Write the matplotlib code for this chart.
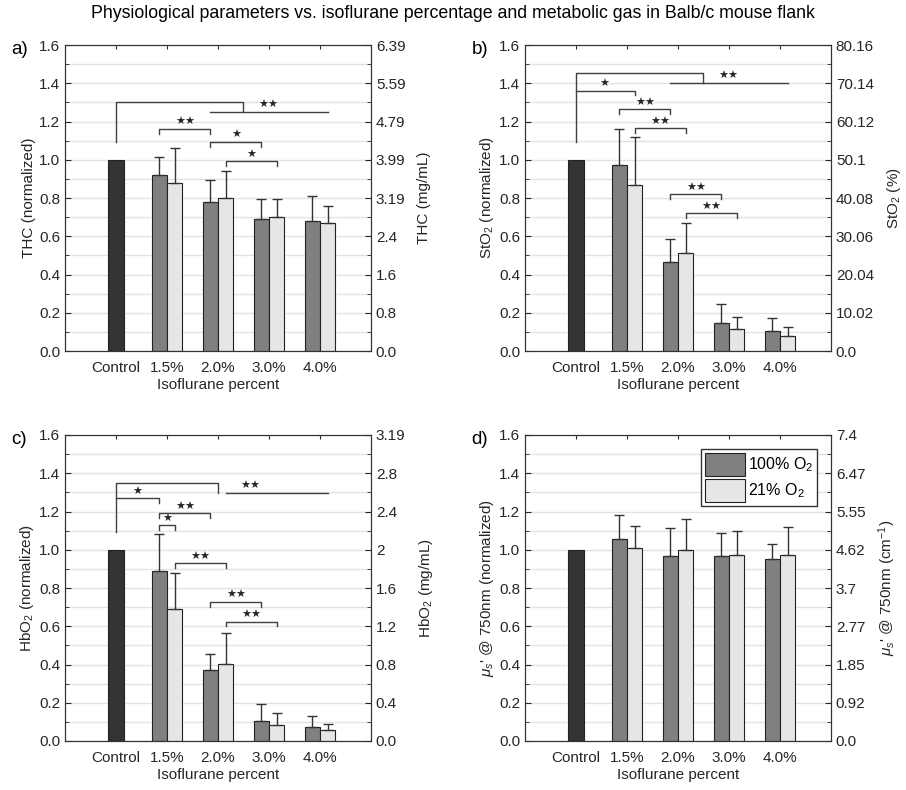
import numpy as np
import matplotlib
matplotlib.use('Agg')
import matplotlib.pyplot as plt

plt.rcParams['font.family'] = ['Liberation Sans', 'DejaVu Sans']
plt.rcParams['mathtext.fontset'] = 'custom'
plt.rcParams['mathtext.rm'] = 'Liberation Sans'
plt.rcParams['mathtext.it'] = 'Liberation Sans:italic'

# ---- data ----
categories = ['Control', '1.5%', '2.0%', '3.0%', '4.0%']
control = 1.0

thc_100 = [0.92, 0.78, 0.69, 0.68]
thc_100_err = [0.095, 0.115, 0.105, 0.13]
thc_21 = [0.88, 0.80, 0.70, 0.67]
thc_21_err = [0.18, 0.14, 0.095, 0.09]

sto2_100 = [0.97, 0.465, 0.145, 0.105]
sto2_100_err = [0.19, 0.12, 0.10, 0.065]
sto2_21 = [0.87, 0.51, 0.115, 0.08]
sto2_21_err = [0.25, 0.16, 0.065, 0.045]

hbo2_100 = [0.89, 0.37, 0.105, 0.075]
hbo2_100_err = [0.19, 0.085, 0.09, 0.055]
hbo2_21 = [0.69, 0.405, 0.085, 0.06]
hbo2_21_err = [0.19, 0.16, 0.06, 0.03]

mus_100 = [1.055, 0.965, 0.965, 0.95]
mus_100_err = [0.125, 0.15, 0.12, 0.08]
mus_21 = [1.01, 1.0, 0.975, 0.975]
mus_21_err = [0.115, 0.16, 0.125, 0.145]

right_thc = ['0.0', '0.8', '1.6', '2.4', '3.19', '3.99', '4.79', '5.59', '6.39']
right_sto2 = ['0.0', '10.02', '20.04', '30.06', '40.08', '50.1', '60.12', '70.14', '80.16']
right_hbo2 = ['0.0', '0.4', '0.8', '1.2', '1.6', '2', '2.4', '2.8', '3.19']
right_mus = ['0.0', '0.92', '1.85', '2.77', '3.7', '4.62', '5.55', '6.47', '7.4']

# significance: (group a, group b, height, stars); group = (cat index, 0=100%, 1=21%)
sig_thc = [((1, 0), (2, 0), 1.162, '★★'), ((2, 0), (3, 0), 1.094, '★'), ((2, 1), (3, 1), 0.993, '★')]
sig_sto2 = [((1, 0), (2, 0), 1.265, '★★'), ((1, 1), (2, 1), 1.164, '★★'),
            ((2, 0), (3, 0), 0.821, '★★'), ((2, 1), (3, 1), 0.72, '★★')]
sig_hbo2 = [((1, 0), (2, 0), 1.19, '★★'), ((1, 0), (1, 1), 1.129, '★'), ((1, 1), (2, 1), 0.929, '★★'),
            ((2, 0), (3, 0), 0.728, '★★'), ((2, 1), (3, 1), 0.624, '★★')]
# control vs. group brackets: (top, drop x, line height, line start, star x)
big_thc = (1.304, 3.49, 1.25, (2, 0), 3.98)
big_sto2 = (1.452, 3.49, 1.403, (2, 0), 3.98)
big_hbo2 = (1.347, 3.0, 1.298, (2, 1), 3.63)
ctrl_sto2 = ((1, 1), 1.361, '★', 1.56)
ctrl_hbo2 = ((1, 0), 1.269, '★', 1.41)

c_ctrl = '#333333'
c_100 = '#808080'
c_21 = '#e6e6e6'
txt = '#262626'
lc = '#404040'
w = 0.3
x = np.arange(1, 6)
star_fs = 8


def gx(g):
    i, s = g
    return x[i] - w / 2 + s * w


def star(ax, sx, y, s):
    ax.text(sx, y + 0.008, s, ha='center', va='bottom', fontsize=star_fs,
            color=txt, family='DejaVu Sans')


def bracket(ax, g1, g2, y, s):
    x1, x2 = gx(g1), gx(g2)
    ax.plot([x1, x1, x2, x2], [y - 0.025, y, y, y - 0.025], color=lc, lw=1)
    star(ax, (x1 + x2) / 2, y, s)


def big(ax, spec):
    top, dx, ly, g0, sx = spec
    ax.plot([1, 1, dx, dx], [1.094, top, top, ly], color=lc, lw=1)
    ax.plot([gx(g0), gx((4, 1))], [ly, ly], color=lc, lw=1)
    star(ax, sx, ly, '★★')


def ctrl(ax, spec):
    g, y, s, sx = spec
    x2 = gx(g)
    ax.plot([1, x2, x2], [y, y, y - 0.025], color=lc, lw=1)
    star(ax, sx, y, s)


def panel(ax, v100, e100, v21, e21, lab, left, right, rlabels):
    ax.set_axisbelow(True)
    ax.bar(x[0], control, w, color=c_ctrl, edgecolor='#222222', lw=0.8, zorder=2)
    b1 = ax.bar(x[1:] - w / 2, v100, w, color=c_100, edgecolor='#222222', lw=0.8,
                zorder=2, label='100% O$_2$')
    b2 = ax.bar(x[1:] + w / 2, v21, w, color=c_21, edgecolor='#222222', lw=0.8,
                zorder=2, label='21% O$_2$')
    ax.errorbar(x[1:] - w / 2, v100, yerr=[np.zeros(4), e100], fmt='none', ecolor='#333333',
                elinewidth=1, capsize=3.5, capthick=1, zorder=3)
    ax.errorbar(x[1:] + w / 2, v21, yerr=[np.zeros(4), e21], fmt='none', ecolor='#333333',
                elinewidth=1, capsize=3.5, capthick=1, zorder=3)
    ax.set_xlim(0, 6)
    ax.set_ylim(0, 1.6)
    ax.set_xticks(x)
    ax.set_xticklabels(categories)
    ax.set_yticks(np.arange(0, 1.61, 0.2))
    ax.set_yticks(np.arange(0.1, 1.6, 0.2), minor=True)
    ax.set_yticklabels(['%.1f' % v for v in np.arange(0, 1.61, 0.2)])
    ax.grid(True, axis='y', which='both', color='#e3e3e3', lw=1)
    ax.tick_params(axis='both', which='both', direction='in', top=True, labelsize=11,
                   colors=txt, length=4)
    ax.tick_params(axis='x', which='both', length=3, pad=7)
    ax.tick_params(axis='y', which='minor', length=3)
    ax.set_xlabel('Isoflurane percent', fontsize=11, color=txt, labelpad=2)
    ax.set_ylabel(left, fontsize=11, color=txt, labelpad=2)
    for sp in ax.spines.values():
        sp.set_color('#333333')
    ax.text(-0.175, 0.985, lab, transform=ax.transAxes, fontsize=13.5, color='black',
            ha='left', va='center')
    ax2 = ax.twinx()
    ax2.set_ylim(0, 1.6)
    ax2.set_yticks(np.arange(0, 1.61, 0.2))
    ax2.set_yticks(np.arange(0.1, 1.6, 0.2), minor=True)
    ax2.set_yticklabels(rlabels)
    ax2.tick_params(axis='y', which='both', direction='in', labelsize=11, colors=txt, length=4)
    ax2.tick_params(axis='y', which='minor', length=3)
    ax2.set_ylabel(right, fontsize=11, color=txt, labelpad=8)
    for sp in ax2.spines.values():
        sp.set_color('#333333')
    return b1, b2


fig = plt.figure(figsize=(9.06, 7.90), dpi=100)
W, H = 906, 790
ax_a = fig.add_axes([65 / W, (H - 351) / H, 306 / W, 306 / H])
ax_b = fig.add_axes([525 / W, (H - 351) / H, 306 / W, 306 / H])
ax_c = fig.add_axes([65 / W, (H - 741) / H, 306 / W, 306 / H])
ax_d = fig.add_axes([525 / W, (H - 741) / H, 306 / W, 306 / H])

panel(ax_a, thc_100, thc_100_err, thc_21, thc_21_err, 'a)', 'THC (normalized)', 'THC (mg/mL)', right_thc)
panel(ax_b, sto2_100, sto2_100_err, sto2_21, sto2_21_err, 'b)', 'StO$_2$ (normalized)', 'StO$_2$ (%)', right_sto2)
panel(ax_c, hbo2_100, hbo2_100_err, hbo2_21, hbo2_21_err, 'c)', 'HbO$_2$ (normalized)', 'HbO$_2$ (mg/mL)', right_hbo2)
b1, b2 = panel(ax_d, mus_100, mus_100_err, mus_21, mus_21_err, 'd)',
               "$\\mu_s$' @ 750nm (normalized)", "$\\mu_s$' @ 750nm (cm$^{-1}$)", right_mus)

for s in sig_thc:
    bracket(ax_a, *s)
for s in sig_sto2:
    bracket(ax_b, *s)
for s in sig_hbo2:
    bracket(ax_c, *s)
big(ax_a, big_thc)
big(ax_b, big_sto2)
big(ax_c, big_hbo2)
ctrl(ax_b, ctrl_sto2)
ctrl(ax_c, ctrl_hbo2)

leg = ax_d.legend(handles=[b1, b2], loc='upper right', bbox_to_anchor=(0.955, 0.955),
                  fancybox=False, framealpha=1, edgecolor='#333333', fontsize=11.5,
                  handlelength=2.5, handleheight=1.9, handletextpad=0.15, borderpad=0.25,
                  labelspacing=0.15, borderaxespad=0)
leg.set_zorder(10)

fig.text(0.5, 0.983, 'Physiological parameters vs. isoflurane percentage and metabolic gas in Balb/c mouse flank',
         ha='center', va='center', fontsize=12.8, color='black')

fig.savefig('out.png', dpi=100)
